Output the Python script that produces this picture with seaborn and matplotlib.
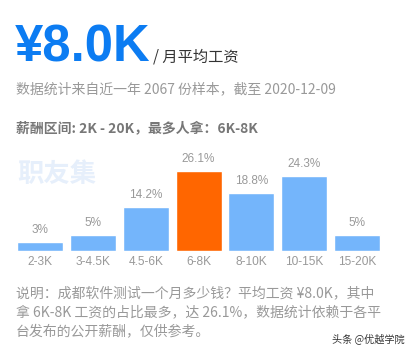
import matplotlib
matplotlib.use("Agg")
import matplotlib.pyplot as plt
import seaborn as sns
import pandas as pd

categories = ["2-3K", "3-4.5K", "4.5-6K", "6-8K", "8-10K", "10-15K", "15-20K"]
values = [3, 5, 14.2, 26.1, 18.8, 24.3, 5]
value_labels = ["3%", "5%", "14.2%", "26.1%", "18.8%", "24.3%", "5%"]
highlight = "6-8K"

sns.set_theme(style="white")
plt.rcParams['font.family'] = ['Liberation Sans', 'Noto Sans CJK SC', 'DejaVu Sans']

W, H = 414, 352
fig = plt.figure(figsize=(W / 100, H / 100), dpi=100)
fig.patch.set_facecolor("white")

def fy(y):
    return 1 - y / H

def fx(x):
    return x / W

cjk = ['Noto Sans CJK SC', 'DejaVu Sans']

# Header
fig.text(fx(15), fy(62), "¥8.0K", fontsize=36.5, fontweight="bold", color="#0c7cf2",
         family=['Liberation Sans', 'DejaVu Sans'], va="baseline", ha="left")
fig.text(fx(153), fy(62), "/ 月平均工资", fontsize=11, color="#333333",
         family=cjk, va="baseline", ha="left")
fig.text(fx(16), fy(89.5), "数据统计来自近一年 2067 份样本，截至 2020-12-09", fontsize=10,
         color="#999999", family=cjk, va="center", ha="left")
fig.text(fx(16), fy(128), "薪酬区间: 2K - 20K，最多人拿：6K-8K", fontsize=10,
         color="#777777", family=cjk, fontweight="bold", va="center", ha="left")
fig.text(fx(17), fy(174), "职友集", fontsize=19, color="#e6effb", family=cjk,
         fontweight="bold", va="center", ha="left")

# Bars
df = pd.DataFrame({"cat": categories, "val": values})
palette = {c: ("#ff6600" if c == highlight else "#74b5fb") for c in categories}
ax = fig.add_axes([13.6 / W, 1 - 250.7 / H, 370 / W, 92 / H])
ax.patch.set_alpha(0)
sns.barplot(data=df, x="cat", y="val", hue="cat", palette=palette, legend=False,
            width=0.87, ax=ax, saturation=1)
ax.set_xlim(-0.5, len(categories) - 0.5)
ax.set_ylim(0, 30)
for i, cont in enumerate(ax.containers):
    ax.bar_label(cont, labels=[value_labels[i]], padding=4.3, fontsize=8.5,
                 color="#999999")
for s in ax.spines.values():
    s.set_visible(False)
ax.set_xlabel("")
ax.set_ylabel("")
ax.set_yticks([])
ax.tick_params(axis="x", length=0, pad=4, labelsize=8.6, labelcolor="#999999")

# Footer
lines = ["说明：成都软件测试一个月多少钱？平均工资 ¥8.0K，其中",
         "拿 6K-8K 工资的占比最多，达 26.1%，数据统计依赖于各平",
         "台发布的公开薪酬，仅供参考。"]
for y, t in zip([293, 312, 331], lines):
    fig.text(fx(16), fy(y), t, fontsize=10, color="#999999", family=cjk,
             va="center", ha="left")
fig.text(fx(405), fy(339), "头条 @优越学院", fontsize=7.3, color="#333333",
         family=cjk, va="center", ha="right")

fig.savefig("out.png", dpi=100)
